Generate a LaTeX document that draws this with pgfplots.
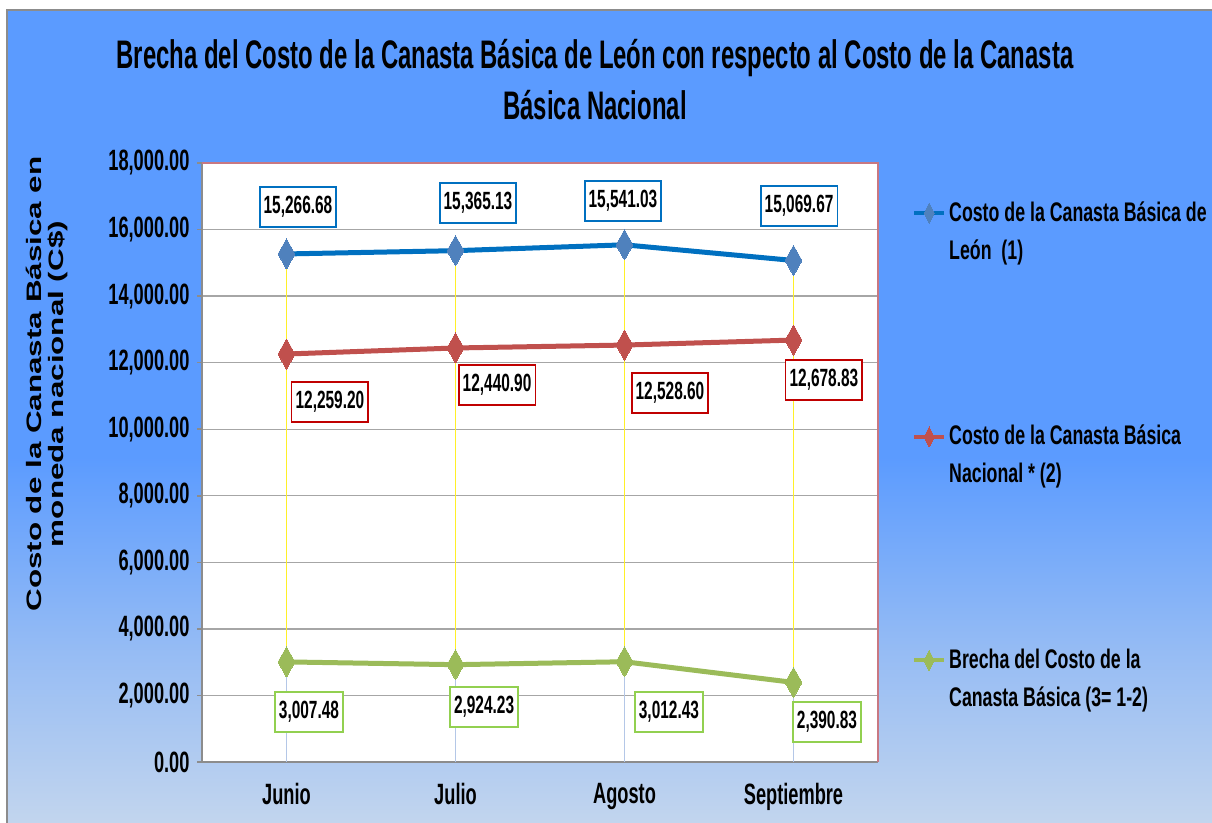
\documentclass[border=0pt]{standalone}
\usepackage{fontspec}
\usepackage{pgfplots}
\pgfplotsset{compat=1.18}
\setmainfont{Liberation Sans}[FakeStretch=0.6]
\newfontfamily\tickfont{Liberation Sans}[FakeStretch=0.62]
\newfontfamily\legfont{Liberation Sans}[FakeStretch=0.66]
\newfontfamily\ylabfont{Liberation Sans}[FakeStretch=1.5]
\definecolor{bgtop}{RGB}{91,155,255}
\definecolor{bglow}{RGB}{150,188,244}
\definecolor{bgbot}{RGB}{194,213,238}
\definecolor{blueline}{RGB}{0,112,192}
\definecolor{bluemark}{RGB}{79,129,189}
\definecolor{redc}{RGB}{192,80,77}
\definecolor{greenc}{RGB}{155,187,89}
\definecolor{bluebox}{RGB}{0,112,192}
\definecolor{redbox}{RGB}{192,0,0}
\definecolor{greenbox}{RGB}{146,208,80}
\definecolor{pinkborder}{RGB}{200,120,130}
\definecolor{gridc}{RGB}{166,166,166}
\definecolor{axisc}{RGB}{140,140,140}
\definecolor{dropy}{RGB}{255,240,40}
\definecolor{dropb}{RGB}{180,199,231}
\pgfdeclareverticalshading{bgshade}{100bp}{color(0bp)=(bgbot); color(25bp)=(bgbot); color(35.5bp)=(bglow); color(47.5bp)=(bgtop); color(75bp)=(bgtop); color(100bp)=(bgtop)}
\begin{document}
\begin{tikzpicture}[x=1bp,y=1bp]
\useasboundingbox (0,0) rectangle (1212,823);
\fill[white] (0,0) rectangle (1212,823);
\shade[shading=bgshade] (7,0) rectangle (1212,813);
\draw[axisc, line width=1.5bp] (7,0) -- (7,813) -- (1212,813);
\begin{axis}[
  at={(202bp,61bp)}, anchor=south west,
  scale only axis, width=676bp, height=599bp,
  xmin=-0.5, xmax=3.5, ymin=0, ymax=18000,
  xtick={0,1,2,3}, xticklabels={Junio,Julio,Agosto,Septiembre},
  ytick={0,2000,...,18000},
  scaled y ticks=false,
  axis lines*=left,
  axis line style={draw=axisc, line width=2bp},
  axis background/.style={fill=white},
  ymajorgrids, grid style={draw=gridc, line width=1.3bp},
  tick align=outside, major tick length=5bp,
  xtick style={draw=none},
  ytick style={draw=axisc, line width=1.5bp},
  /pgf/number format/assume math mode=true,
  y tick label style={xshift=-4bp, /pgf/number format/fixed, /pgf/number format/fixed zerofill, /pgf/number format/precision=2, /pgf/number format/1000 sep={,}},
  tick label style={font=\tickfont\bfseries\fontsize{29.5}{30}\selectfont},
  xticklabel style={yshift=-13bp},
  every axis y label/.style={at={(axis description cs:-0.2293,0.631)}, rotate=90, anchor=center, align=center, inner sep=0pt, font=\ylabfont\bfseries\fontsize{21}{22}\selectfont},
  ylabel={Costo de la Canasta Básica en\\moneda nacional (C\$)},
  title style={at={(axis description cs:0.5814,1.197)}, anchor=north, align=center, inner sep=0pt, font=\bfseries\fontsize{40}{51}\selectfont},
  title={Brecha del Costo de la Canasta Básica de León con respecto al Costo de la Canasta\\Básica Nacional},
  legend cell align=left,
  legend style={at={(axis description cs:1.0503,0.936)}, anchor=north west, draw=none, fill=none, inner sep=0pt, column sep=3bp, row sep=202bp, nodes={inner sep=0pt}, cells={anchor=base west}, font=\legfont\bfseries\fontsize{27}{38}\selectfont},
  legend image code/.code={\draw[mark repeat=2, mark phase=2, #1, line width=4bp, mark size=10bp, every mark/.append style={xscale=0.89}] plot coordinates {(0bp,8bp) (15bp,8bp) (30bp,8bp)};},
  clip=false,
]
\addplot[color=blueline, line width=5bp, mark=diamond*, mark size=15bp, mark options={fill=bluemark, draw=bluemark, line width=0pt, xscale=0.75}]
  coordinates {(0,15266.68) (1,15365.13) (2,15541.03) (3,15069.67)};
\addlegendentry{\parbox[t]{265bp}{\raggedright Costo de la Canasta Básica de\\León\ \ (1)}}
\addplot[color=redc, line width=5bp, mark=diamond*, mark size=15bp, mark options={fill=redc, draw=redc, line width=0pt, xscale=0.75}]
  coordinates {(0,12259.20) (1,12440.90) (2,12528.60) (3,12678.83)};
\addlegendentry{\parbox[t]{265bp}{\raggedright Costo de la Canasta Básica\\Nacional * (2)}}
\addplot[color=greenc, line width=5bp, mark=diamond*, mark size=15bp, mark options={fill=greenc, draw=greenc, line width=0pt, xscale=0.75}]
  coordinates {(0,3007.48) (1,2924.23) (2,3012.43) (3,2390.83)};
\addlegendentry{\parbox[t]{265bp}{\raggedright Brecha del Costo de la\\Canasta Básica (3= 1-2)}}
\addplot[forget plot, ycomb, draw=dropy, line width=1bp, no marks]
  coordinates {(0,15266.68) (1,15365.13) (2,15541.03) (3,15069.67)};
\addplot[forget plot, ycomb, draw=dropb, line width=1bp, no marks]
  coordinates {(0,3007.48) (1,2924.23) (2,3012.43) (3,2390.83)};
\draw[pinkborder, line width=1.3bp] (rel axis cs:0,1) -- (rel axis cs:1,1) -- (rel axis cs:1,0);
\begin{scope}[every node/.style={fill=white, line width=1.8bp, inner xsep=4bp, inner ysep=0pt, minimum height=40bp, font=\tickfont\bfseries\fontsize{25}{26}\selectfont}]
\node[draw=bluebox] at (axis cs:0.068,16678) {15,266.68};
\node[draw=bluebox] at (axis cs:1.133,16798) {15,365.13};
\node[draw=bluebox] at (axis cs:1.991,16858) {15,541.03};
\node[draw=bluebox] at (axis cs:3.033,16708) {15,069.67};
\node[draw=redbox] at (axis cs:0.257,10818) {12,259.20};
\node[draw=redbox] at (axis cs:1.246,11329) {12,440.90};
\node[draw=redbox] at (axis cs:2.269,11088) {12,528.60};
\node[draw=redbox] at (axis cs:3.180,11479) {12,678.83};
\node[draw=greenbox] at (axis cs:0.133,1503) {3,007.48};
\node[draw=greenbox] at (axis cs:1.169,1653) {2,924.23};
\node[draw=greenbox] at (axis cs:2.263,1503) {3,012.43};
\node[draw=greenbox] at (axis cs:3.198,1202) {2,390.83};
\end{scope}
\end{axis}
\end{tikzpicture}
\end{document}
